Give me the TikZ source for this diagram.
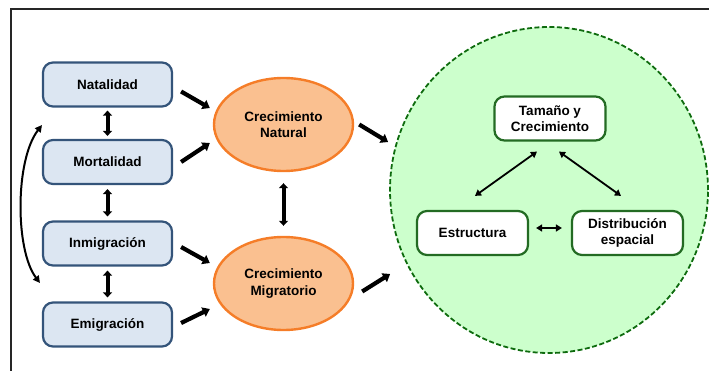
\documentclass[tikz,border=0pt]{standalone}
\usepackage{fontspec}
\setmainfont{Liberation Sans}
\usetikzlibrary{arrows.meta,shapes.geometric}

\definecolor{boxfill}{HTML}{DCE6F2}
\definecolor{boxline}{HTML}{34547A}
\definecolor{ovalfill}{HTML}{FAC090}
\definecolor{ovalline}{RGB}{245,125,40}
\definecolor{zonefill}{HTML}{CCFFCC}
\definecolor{zoneline}{HTML}{0E6B0E}
\definecolor{itemline}{HTML}{236B23}

\tikzset{
  txt/.style={font=\fontsize{13.5}{16.5}\selectfont\bfseries, align=center, text=black},
  factor/.style={txt, draw=boxline, fill=boxfill, line width=2.2pt, rounded corners=10pt,
    minimum width=129pt, minimum height=44pt, inner sep=0pt},
  growth/.style={txt, ellipse, draw=ovalline, fill=ovalfill, line width=2.4pt,
    minimum width=139pt, minimum height=93pt, inner sep=0pt},
  zone/.style={ellipse, draw=zoneline, fill=zonefill, line width=1.8pt,
    dash pattern=on 5pt off 2.5pt, minimum width=318pt, minimum height=326pt, inner sep=0pt},
  item/.style={txt, draw=itemline, fill=white, line width=2.2pt, rounded corners=10pt,
    minimum width=111pt, minimum height=44pt, inner sep=0pt},
  flow/.style={line width=4.2pt, -{Triangle[length=7pt, width=10pt]}},
  link/.style={line width=4pt, {Triangle[length=5pt, width=9pt]}-{Triangle[length=5pt, width=9pt]}},
  thin link/.style={line width=1.8pt, {Triangle[length=6pt, width=7pt]}-{Triangle[length=6pt, width=7pt]}},
}

\begin{document}
\begin{tikzpicture}[x=1pt, y=-1pt]
\useasboundingbox (0,0) rectangle (709,371);

% outer frame (top and left edges)
\draw[line width=2pt, black!85] (11,371) -- (11,9) -- (709,9);

% demographic factors
\node[factor] (nat) at (107.5,84.5)  {Natalidad};
\node[factor] (mor) at (107.5,162)   {Mortalidad};
\node[factor] (inm) at (107.5,243.5) {Inmigración};
\node[factor] (emi) at (107.5,324.5) {Emigración};

% growth components
\node[growth] (cn) at (283.5,124.5) {Crecimiento\\Natural};
\node[growth] (cm) at (283.5,283.5) {Crecimiento\\Migratorio};

% population zone
\node[zone] (zone) at (549,190) {};
\node[item] (tam) at (550,118.5) {Tamaño y\\Crecimiento};
\node[item] (est) at (472.5,233) {Estructura};
\node[item] (dis) at (627.5,233) {Distribución\\espacial};

% links between factors
\draw[link, shorten <=3pt, shorten >=3pt] (nat.south) -- (mor.north);
\draw[link, shorten <=4pt, shorten >=4pt] (mor.south) -- (inm.north);
\draw[link, shorten <=4pt, shorten >=4pt] (inm.south) -- (emi.north);
\draw[link, shorten <=11pt, shorten >=10pt] (cn.south) -- (cm.north);

% side loop
\coordinate (lt) at (42,125);
\coordinate (lb) at (40,283);
\draw[line width=2pt, {Triangle[length=7pt, width=7pt]}-{Triangle[length=7pt, width=7pt]}]
  (lt) .. controls (15,160) and (15,250) .. (lb);

% flows into growth components
\draw[flow] ([shift={(8,7)}]nat.east) -- ([shift={(-3,-16.5)}]cn.west);
\draw[flow] ([shift={(8,0)}]mor.east) -- ([shift={(-3,18.5)}]cn.west);
\draw[flow] ([shift={(8,3.5)}]inm.east) -- ([shift={(-3,-20.5)}]cm.west);
\draw[flow] ([shift={(8,-1.5)}]emi.east) -- ([shift={(-3,25.5)}]cm.west);

% flows into the population zone
\draw[flow] ([shift={(5,0)}]cn.east) -- ([shift={(-1,-48)}]zone.west);
\draw[flow] ([shift={(8,8)}]cm.east) -- ([shift={(1,84)}]zone.west);

% links inside the zone
\draw[thin link] ([shift={(-13,10)}]tam.south) -- ([shift={(2.5,-14)}]est.north);
\draw[thin link] ([shift={(9,10)}]tam.south) -- ([shift={(-6.5,-14)}]dis.north);
\draw[thin link] ([shift={(7,-5)}]est.east) -- ([shift={(-9,-5)}]dis.west);
\end{tikzpicture}
\end{document}
